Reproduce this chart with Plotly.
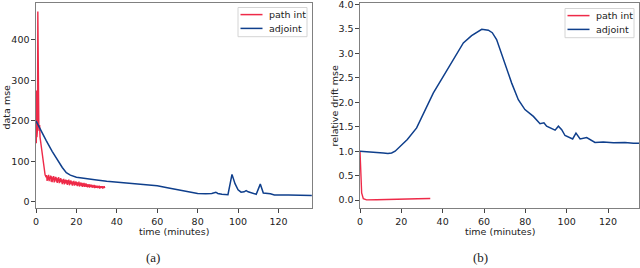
import plotly.graph_objects as go

# ---------- data: panel (a) data mse ----------
path_t_early = [0.0, 0.15, 0.3, 0.45, 0.6, 0.75, 0.9, 1.05, 1.2, 1.4, 1.6, 1.8, 2.0,
                2.25, 2.5, 2.75, 3.0, 3.25, 3.5, 3.75, 4.0, 4.25, 4.5, 4.75, 5.0]
path_v_early = [200, 145, 275, 160, 230, 180, 470, 260, 210, 190, 175, 190, 160,
                150, 138, 128, 118, 105, 95, 85, 78, 72, 67, 64, 61]
path_v_late = [66, 52, 63, 55, 67, 51, 62, 57, 65, 50,
               63, 49, 61, 54, 64, 48, 60, 53, 62, 50,
               60, 47, 58, 51, 61, 46, 57, 49, 59, 48,
               56, 44, 55, 47, 57, 43, 54, 46, 55, 45,
               54, 42, 53, 45, 55, 41, 52, 44, 53, 43,
               51, 40, 50, 43, 52, 40, 49, 42, 51, 41,
               49, 39, 48, 41, 50, 38, 47, 40, 48, 39,
               47, 37, 46, 39, 47, 37, 45, 38, 46, 37,
               44, 36, 43, 37, 44, 35, 42, 37, 43, 36,
               42, 35, 41, 36, 42, 34, 41, 35, 40, 35,
               40, 34, 39, 35, 40, 33, 39, 34, 39, 35,
               39, 33, 38, 34, 39, 34]
path_t_late = [5.25 + 0.25 * i for i in range(len(path_v_late))]

adj_t_a = [0, 2, 5, 8, 11, 13, 15, 17, 20, 25, 30, 35, 40, 45, 50, 55, 60, 65, 70,
           75, 80, 84, 87, 89, 90, 92, 95, 97, 98.5, 100, 101.5, 103, 104, 105, 107,
           109, 111, 112.5, 116, 118, 125, 130, 136.5]
adj_v_a = [200, 180, 152, 125, 100, 85, 72, 66, 61, 57, 54, 51, 49, 47, 45, 43, 40, 35, 30,
           25, 21, 20, 21, 24, 21, 19, 18, 68, 45, 30, 24, 25, 28, 25, 22,
           19, 44, 22, 20, 17, 17, 17, 16]

# ---------- data: panel (b) relative drift mse ----------
path_t_b = [0, 0.4, 0.8, 1.6, 3.2, 8, 13, 18, 22.6, 28, 34]
path_v_b = [1.0, 0.45, 0.15, 0.03, 0.005, 0.008, 0.01, 0.015, 0.02, 0.028, 0.035]

adj_t_b = [0, 5, 11.3, 13.5, 15.3, 17, 19.4, 22.9, 27.4, 31.5, 35.5, 40.3, 45.2, 50, 54,
           58.9, 62.1, 64, 66.1, 69.4, 73.4, 76.6, 79.8, 83.9, 87.1, 89, 90.3, 94.4,
           96, 97.6, 99.2, 102.9, 104.5, 106.5, 109.7, 113.7, 117.7, 122.6, 128.2,
           132.3, 135]
adj_v_b = [1.0, 0.99, 0.965, 0.955, 0.965, 1.0, 1.10, 1.24, 1.475, 1.85, 2.19, 2.53, 2.87,
           3.21, 3.36, 3.49, 3.47, 3.42, 3.28, 2.87, 2.39, 2.05, 1.85, 1.71, 1.56, 1.58,
           1.51, 1.43, 1.51, 1.44, 1.32, 1.25, 1.37, 1.25, 1.28, 1.18, 1.19, 1.17, 1.18,
           1.16, 1.16]

series_names = ["path int", "adjoint"]
x_ticks = [0, 20, 40, 60, 80, 100, 120]
y_ticks_a = [0, 100, 200, 300, 400]
y_ticks_b = [0, 0.5, 1, 1.5, 2, 2.5, 3, 3.5, 4]
y_ticktext_b = ["0.0", "0.5", "1.0", "1.5", "2.0", "2.5", "3.0", "3.5", "4.0"]

RED = "#ee2a48"
BLUE = "#0f3f8c"
TXT = "#222222"
FONT = "DejaVu Sans"
W, H = 640, 268


def px(x):
    return x / W


def py(y):
    return (H - y) / H


fig = go.Figure()
fig.add_trace(go.Scatter(x=path_t_early + path_t_late, y=path_v_early + path_v_late,
                         mode="lines", name=series_names[0], line=dict(color=RED, width=1.4),
                         xaxis="x", yaxis="y"))
fig.add_trace(go.Scatter(x=adj_t_a, y=adj_v_a, mode="lines", name=series_names[1],
                         line=dict(color=BLUE, width=1.5), xaxis="x", yaxis="y"))
fig.add_trace(go.Scatter(x=path_t_b, y=path_v_b, mode="lines", name=series_names[0],
                         line=dict(color=RED, width=1.4), xaxis="x2", yaxis="y2"))
fig.add_trace(go.Scatter(x=adj_t_b, y=adj_v_b, mode="lines", name=series_names[1],
                         line=dict(color=BLUE, width=1.5), xaxis="x2", yaxis="y2"))

axis_common = dict(showline=True, linecolor="#808080", linewidth=1.2, mirror=True,
                   ticks="outside", ticklen=3.5, tickcolor="#444", tickwidth=0.8,
                   showgrid=False, zeroline=False, automargin=False,
                   ticklabeloverflow="allow",
                   tickfont=dict(family=FONT, size=9.5, color=TXT))

fig.update_layout(
    width=W, height=H,
    margin=dict(l=0, r=0, t=0, b=0, autoexpand=False),
    paper_bgcolor="white", plot_bgcolor="white",
    font=dict(family=FONT, size=9.5, color=TXT),
    showlegend=False,
    xaxis=dict(domain=[px(36), px(312)], range=[0, 136.6], tickvals=x_ticks,
               anchor="y", ticklabelstandoff=1, **axis_common),
    yaxis=dict(domain=[py(208), py(3)], range=[-15, 491], tickvals=y_ticks_a,
               anchor="x", **axis_common),
    xaxis2=dict(domain=[px(360), px(639)], range=[0, 135], tickvals=x_ticks,
                anchor="y2", ticklabelstandoff=1, **axis_common),
    yaxis2=dict(domain=[py(208), py(3.3)], range=[-0.16, 4.02],
                tickvals=y_ticks_b, ticktext=y_ticktext_b,
                anchor="x2", **axis_common),
)

shapes = []
ann = []
# manual legends (box, line samples, labels)
legend_specs = [
    dict(box=(238, 7.5, 307, 36.7), line=(240.5, 262.5), text_x=266.5, rows=(14.6, 28.4)),
    dict(box=(565, 8.5, 634, 37.7), line=(567.5, 589.5), text_x=593.5, rows=(15.6, 29.4)),
]
for spec in legend_specs:
    x0, y0, x1, y1 = spec["box"]
    shapes.append(dict(type="rect", xref="paper", yref="paper", x0=px(x0), x1=px(x1),
                       y0=py(y1), y1=py(y0), line=dict(color="#d4d4d4", width=1),
                       fillcolor="rgba(255,255,255,0.85)", layer="above"))
    for name, col, ry in zip(series_names, [RED, BLUE], spec["rows"]):
        shapes.append(dict(type="line", xref="paper", yref="paper",
                           x0=px(spec["line"][0]), x1=px(spec["line"][1]),
                           y0=py(ry), y1=py(ry), line=dict(color=col, width=1.5),
                           layer="above"))
        ann.append(dict(text=name, x=px(spec["text_x"]), y=py(ry), xref="paper", yref="paper",
                        xanchor="left", yanchor="middle", showarrow=False,
                        font=dict(family=FONT, size=9.5, color=TXT)))


def label(text, x, y, angle=0, family=FONT, size=9.5):
    return dict(text=text, x=px(x), y=py(y), xref="paper", yref="paper",
                xanchor="center", yanchor="middle", textangle=angle, showarrow=False,
                font=dict(family=family, size=size, color=TXT))


ann += [
    label("time (minutes)", (36 + 312) / 2, 231),
    label("time (minutes)", (360 + 639) / 2, 231),
    label("data mse", 5.5, 107, angle=-90),
    label("relative drift mse", 333.5, 106, angle=-90),
    label("(a)", 153, 257, family="Liberation Serif", size=13),
    label("(b)", 480, 257, family="Liberation Serif", size=13),
]
fig.update_layout(shapes=shapes, annotations=ann)

fig.write_html("out.html", config={"displayModeBar": False},
               post_script="document.body.style.margin='0';document.body.style.overflow='hidden';")
